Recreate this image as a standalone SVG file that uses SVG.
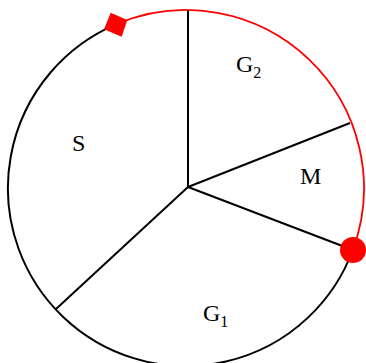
<svg xmlns="http://www.w3.org/2000/svg" width="366" height="363" viewBox="0 0 366 363">
<style>
.blk{fill:none;stroke:#000;stroke-width:2}
.red{fill:none;stroke:#ff0000;stroke-width:1.8}
.lbl{font-family:"Liberation Serif","Times New Roman",serif;font-size:24px;fill:#000}
.sub{font-size:16px}
</style>
<rect width="366" height="363" fill="#fff"/>
<g id="connectors">
<path class="blk" d="M352.8,250 A178,178 0 1 1 115.9,24.4"/>
<path class="red" d="M115.9,24.4 A178,178 0 0 1 352.8,250"/>
<line class="blk" x1="188" y1="187" x2="188" y2="10"/>
<line class="blk" x1="188" y1="187" x2="350" y2="123"/>
<line class="blk" x1="188" y1="187" x2="345" y2="247"/>
<line class="blk" x1="188" y1="187" x2="56" y2="309"/>
</g>
<g id="marker-start">
<polygon points="110.7,12.7 127.3,20 121.7,36.7 104,29.3" fill="#ff0000"/>
</g>
<g id="marker-end">
<circle cx="353" cy="250" r="13" fill="#ff0000"/>
</g>
<g id="G2"><text class="lbl" x="236" y="72">G<tspan class="sub" dy="6">2</tspan></text></g>
<g id="S"><text class="lbl" x="72" y="151">S</text></g>
<g id="M"><text class="lbl" x="300" y="184">M</text></g>
<g id="G1"><text class="lbl" x="203" y="321">G<tspan class="sub" dy="6">1</tspan></text></g>
</svg>
